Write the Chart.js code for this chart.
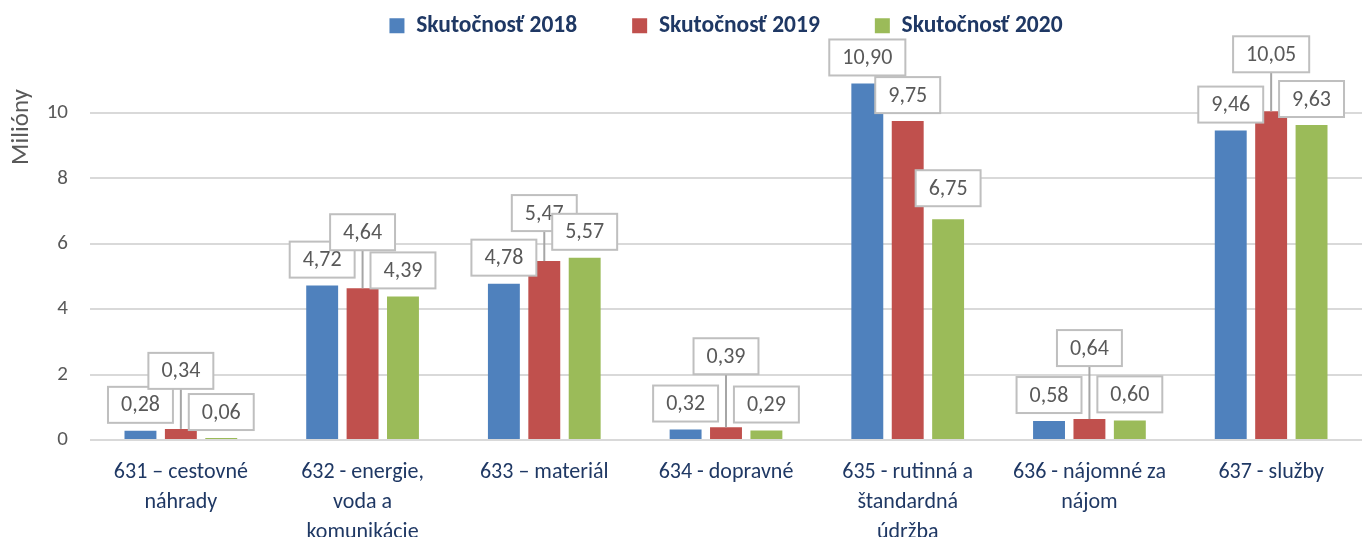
<!DOCTYPE html>
<html lang="sk">
<head>
<meta charset="utf-8">
<script src="https://cdn.jsdelivr.net/npm/chart.js@4.4.1/dist/chart.umd.min.js"></script>
<style>
  html, body { margin: 0; padding: 0; background: #fff; overflow: hidden; }
  #obal { width: 1362px; height: 537px; }
</style>
</head>
<body>
<div id="obal"><canvas id="graf"></canvas></div>
<script>
const kategorie = [
    ["631 – cestovné", "náhrady"],
    ["632 - energie,", "voda a", "komunikácie"],
    ["633 – materiál"],
    ["634 - dopravné"],
    ["635 - rutinná a", "štandardná", "údržba"],
    ["636 - nájomné za", "nájom"],
    ["637 - služby"]
];
const skutocnost2018 = [0.28, 4.72, 4.78, 0.32, 10.90, 0.58, 9.46];
const skutocnost2019 = [0.34, 4.64, 5.47, 0.39, 9.75, 0.64, 10.05];
const skutocnost2020 = [0.06, 4.39, 5.57, 0.29, 6.75, 0.60, 9.63];
const osY = [0, 2, 4, 6, 8, 10];
const nazovOsiY = 'Milióny';

// posun štítkov nahor (px), ako v pôvodnom grafe
const posunStitkov = [
    [0, 0, 0, 0, 0, 0, 0],
    [32, 30, 22, 45, 0, 45, 31],
    [0, 0, 0, 0, 5, 0, 0]
];

const pismo = "Carlito, Lato, 'Open Sans', sans-serif";

const stitky = {
    id: 'stitky',
    afterDatasetsDraw(chart) {
        const ctx = chart.ctx;
        ctx.save();
        ctx.font = "22px " + pismo;
        ctx.textAlign = 'center';
        ctx.textBaseline = 'middle';
        chart.data.datasets.forEach((ds, i) => {
            const meta = chart.getDatasetMeta(i);
            meta.data.forEach((bar, j) => {
                const text = ds.data[j].toFixed(2).replace('.', ',');
                const w = ctx.measureText(text).width + 26;
                const h = 36;
                const lift = posunStitkov[i][j];
                const cy = bar.y - 26 - lift;
                const x = bar.x;
                if (lift > 10) {
                    ctx.strokeStyle = '#a6a6a6';
                    ctx.lineWidth = 2;
                    ctx.beginPath();
                    ctx.moveTo(x, cy + h / 2);
                    ctx.lineTo(x, bar.y);
                    ctx.stroke();
                }
                ctx.fillStyle = '#fff';
                ctx.fillRect(x - w / 2, cy - h / 2, w, h);
                ctx.strokeStyle = '#bfbfbf';
                ctx.lineWidth = 2;
                ctx.strokeRect(x - w / 2, cy - h / 2, w, h);
                ctx.fillStyle = '#595959';
                ctx.fillText(text, x, cy + 1);
            });
        });
        ctx.restore();
    }
};

// nadpis osi Y je v pôvodnom grafe posunutý nahor
const titulokOsi = {
    id: 'titulokOsi',
    afterDraw(chart) {
        const ctx = chart.ctx;
        ctx.save();
        ctx.translate(22, 127);
        ctx.rotate(-Math.PI / 2);
        ctx.font = "25px " + pismo;
        ctx.fillStyle = '#595959';
        ctx.textAlign = 'center';
        ctx.textBaseline = 'middle';
        ctx.fillText(nazovOsiY, 0, 0);
        ctx.restore();
    }
};

new Chart(document.getElementById('graf'), {
    type: 'bar',
    data: {
        labels: kategorie,
        datasets: [
            { label: 'Skutočnosť 2018', data: skutocnost2018, backgroundColor: '#4f81bd' },
            { label: 'Skutočnosť 2019', data: skutocnost2019, backgroundColor: '#c0504d' },
            { label: 'Skutočnosť 2020', data: skutocnost2020, backgroundColor: '#9bbb59' }
        ]
    },
    options: {
        responsive: true,
        maintainAspectRatio: false,
        animation: false,
        layout: { padding: { top: -41, right: 0, left: 0, bottom: 0 } },
        datasets: {
            bar: { categoryPercentage: 0.667, barPercentage: 0.79 }
        },
        plugins: {
            tooltip: { enabled: false },
            legend: {
                position: 'top',
                fullSize: false,
                labels: {
                    boxWidth: 15,
                    boxHeight: 15,
                    padding: 55,
                    color: '#1f3864',
                    font: { family: pismo, size: 23.5, weight: 'bold' },
                    generateLabels: chart => Chart.defaults.plugins.legend.labels.generateLabels(chart)
                        .map(l => Object.assign(l, { lineWidth: 0 }))
                }
            }
        },
        scales: {
            x: {
                grid: { display: false },
                border: { display: false },
                ticks: {
                    color: '#1f3864',
                    maxRotation: 0,
                    autoSkip: false,
                    padding: 10,
                    font: { family: pismo, size: 22, lineHeight: 1.36 }
                },
                afterFit: s => { s.height = 97; }
            },
            y: {
                min: 0,
                max: 12,
                afterBuildTicks: s => {
                    s.ticks = osY.map(v => ({ value: v }));
                },
                grid: { color: '#d9d9d9', lineWidth: 2, drawTicks: false },
                border: { display: false },
                ticks: {
                    color: '#595959',
                    padding: 22,
                    font: { family: pismo, size: 21 }
                },
                afterFit: s => { s.width = 90; }
            }
        }
    },
    plugins: [stitky, titulokOsi]
});
</script>
</body>
</html>
